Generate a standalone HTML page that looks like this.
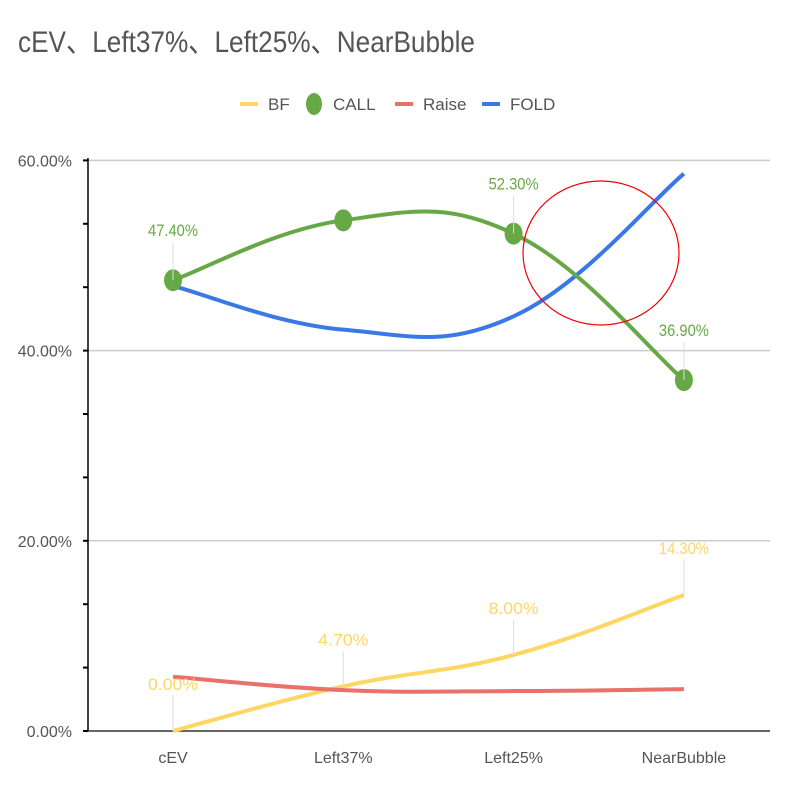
<!DOCTYPE html>
<html><head><meta charset="utf-8"><style>
body{margin:0;background:#fff;}
svg{display:block;font-family:"Liberation Sans","Noto Sans CJK SC",sans-serif;}
</style></head><body>
<svg id="chart" width="790" height="790" viewBox="0 0 790 790">
<text x="18" y="52" font-size="30" fill="#555" textLength="457" lengthAdjust="spacingAndGlyphs">cEV、Left37%、Left25%、NearBubble</text>
<g id="legend"></g>
<g id="grid"></g><g id="axes"></g><g id="series"></g><g id="labels"></g>
<ellipse cx="601" cy="253" rx="78" ry="72" fill="none" stroke="#e00" stroke-width="1.2"/>
</svg>
<script>
const categories=["cEV","Left37%","Left25%","NearBubble"];
const bf=[0,4.7,8.0,14.3];
const call=[47.4,53.7,52.3,36.9];
const raise=[5.7,4.3,4.2,4.4];
const fold=[46.8,42.2,43.6,58.6];
const yTicks=[0,20,40,60];
const yTickLabels=["0.00%","20.00%","40.00%","60.00%"];
const NS="http://www.w3.org/2000/svg";
const x=i=>173+i*170.3;
const y=v=>731-v*9.51;
function mk(tag,attrs,parent){const e=document.createElementNS(NS,tag);for(const k in attrs)e.setAttribute(k,attrs[k]);document.getElementById(parent).appendChild(e);return e;}
yTicks.forEach((t,i)=>{
 if(t>0){const g=mk('line',{x1:88,x2:770,y1:y(t),y2:y(t),stroke:'#ccc','stroke-width':1.5},'grid');
 
 }
 const l=mk('text',{x:72,y:y(t)+6,'font-size':16,fill:'#555','text-anchor':'end'},'axes');l.textContent=yTickLabels[i];
 
 
});
for(let k=0;k<=9;k++){const tk=mk('line',{x1:83,x2:88,y1:y(k*20/3),y2:y(k*20/3),stroke:'#000','stroke-width':2},'axes');
 
 }
const ax=mk('line',{x1:88,x2:88,y1:158,y2:731,stroke:'#000','stroke-width':1.5},'axes');


const bx=mk('line',{x1:88,x2:770,y1:731,y2:731,stroke:'#333','stroke-width':1.5},'axes');


categories.forEach((c,i)=>{const t=mk('text',{x:x(i),y:763,'font-size':16,fill:'#555','text-anchor':'middle'},'axes');t.textContent=c;
 
 });
function path(vals){const p=vals.map((v,i)=>[x(i),y(v)]);let d='M'+p[0][0]+','+p[0][1];
 for(let i=0;i<p.length-1;i++){const p0=p[i-1]||p[i],p1=p[i],p2=p[i+1],p3=p[i+2]||p2;const s=1/5;
 d+=` C${p1[0]+(p2[0]-p0[0])*s},${p1[1]+(p2[1]-p0[1])*s} ${p2[0]-(p3[0]-p1[0])*s},${p2[1]-(p3[1]-p1[1])*s} ${p2[0]},${p2[1]}`;}return d;}
const ser=[["bf",bf,"#fdd663"],["raise",raise,"#e8716a"],["fold",fold,"#3b78e7"],["call",call,"#67a846"]];
ser.forEach(([n,v,c])=>{const p=mk('path',{d:path(v),fill:'none',stroke:c,'stroke-width':4},'series');
 
 });
call.forEach((v,i)=>{const e=mk('ellipse',{cx:x(i),cy:y(v),rx:9,ry:11,fill:'#67a846'},'series');
 
 });
function lab(vals,idx,col,dy,name){idx.forEach(i=>{const v=vals[i];const ly=y(v)+dy;
 const ln=mk('line',{x1:x(i),x2:x(i),y1:ly+6,y2:y(v),stroke:'#ddd','stroke-width':1},'labels');
 
 
 const t=mk('text',{x:x(i),y:ly,'font-size':17,fill:col,'text-anchor':'middle',textLength:50,lengthAdjust:'spacingAndGlyphs'},'labels');t.textContent=v.toFixed(2)+'%';
 
 });}
lab(call,[0,2,3],'#67a846',-44,'call');
lab(bf,[0,1,2,3],'#fdd663',-41,'bf');
const leg=[["BF","#fdd663","line"],["CALL","#67a846","dot"],["Raise","#e8716a","line"],["FOLD","#3b78e7","line"]];
const lx=[240,305,395,482];
leg.forEach(([n,c,t],i)=>{
 if(t==='line'){const l=mk('line',{x1:lx[i],x2:lx[i]+18,y1:104,y2:104,stroke:c,'stroke-width':4},'legend');
  
  }
 else{const e=mk('ellipse',{cx:lx[i]+9,cy:104,rx:8,ry:11,fill:c},'legend');
  
  }
 const tx=mk('text',{x:lx[i]+28,y:110,'font-size':17,fill:'#555'},'legend');tx.textContent=n;
 
 
});
</script>
</body></html>
